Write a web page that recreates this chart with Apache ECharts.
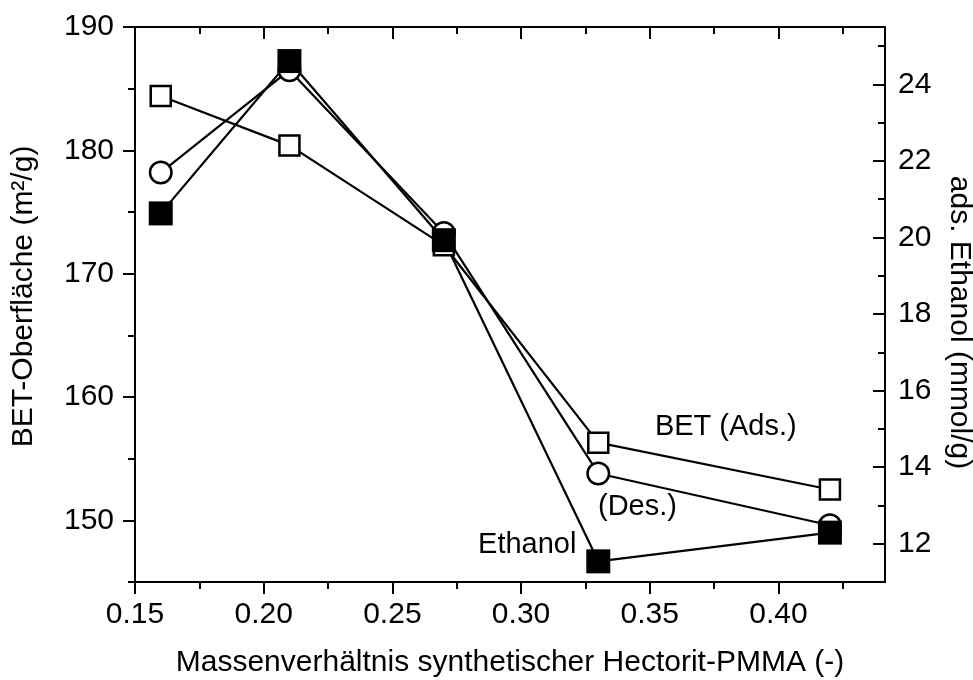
<!DOCTYPE html>
<html>
<head>
<meta charset="utf-8">
<script src="https://cdn.jsdelivr.net/npm/echarts@6/dist/echarts.min.js"></script>
<style>html,body{margin:0;padding:0;background:#fff}#c{width:973px;height:680px}</style>
</head>
<body>
<div id="c"></div>
<script>
// ---- data ----
const ratios = [0.16, 0.21, 0.27, 0.33, 0.42];
const betAds = [184.4, 180.4, 172.3, 156.3, 152.5];
const betDes = [178.2, 186.5, 173.3, 153.8, 149.6];
const ethanol = [20.63, 24.61, 19.93, 11.54, 12.29];

const xMajor = [0.15, 0.20, 0.25, 0.30, 0.35, 0.40];
const xMinor = [0.175, 0.225, 0.275, 0.325, 0.375, 0.425];
const yLeftMajor = [150, 160, 170, 180, 190];
const yLeftMinor = [145, 155, 165, 175, 185];
const yRightMajor = [12, 14, 16, 18, 20, 22, 24];
const yRightMinor = [13, 15, 17, 19, 21, 23, 25];

const FONT = 'Liberation Sans';
const FS = 30;
const FS_NOTE = 29;
const black = '#000';

function pairs(xs, ys) { return xs.map((x, i) => [x, ys[i]]); }

const X_MIN = 0.15, X_MAX = 0.4414;
const YL_MIN = 145, YL_MAX = 190;
const YR_MIN = 11, YR_MAX = 25.5;

function xAx(pos, ticks, len, inside, labels, extra) {
  return Object.assign({
    type: 'value', position: pos, min: X_MIN, max: X_MAX,
    axisLine: { show: true, onZero: false, lineStyle: { color: black, width: 2 } },
    axisTick: { show: true, customValues: ticks, length: len, inside: inside, lineStyle: { color: black, width: 2 } },
    axisLabel: labels ? { show: true, customValues: xMajor, formatter: v => v.toFixed(2), color: black, fontFamily: FONT, fontSize: FS, margin: 18 } : { show: false },
    splitLine: { show: false }
  }, extra || {});
}
function yAx(pos, min, max, ticks, len, inside, labelVals, extra) {
  return Object.assign({
    type: 'value', position: pos, min: min, max: max,
    axisLine: { show: true, onZero: false, lineStyle: { color: black, width: 2 } },
    axisTick: { show: true, customValues: ticks, length: len, inside: inside, lineStyle: { color: black, width: 2 } },
    axisLabel: labelVals ? { show: true, customValues: labelVals, color: black, fontFamily: FONT, fontSize: FS, margin: inside ? 13 : 21 } : { show: false },
    splitLine: { show: false }
  }, extra || {});
}

const chart = echarts.init(document.getElementById('c'), null, { renderer: 'canvas' });
const option = {
  backgroundColor: '#fff',
  animation: false,
  grid: { left: 135, right: 88, top: 27, bottom: 98, containLabel: false, outerBoundsMode: 'none' },
  xAxis: [
    xAx('bottom', xMajor, 12, false, true, {
      name: 'Massenverhältnis synthetischer Hectorit-PMMA (-)', nameLocation: 'middle', nameGap: 66,
      nameTextStyle: { color: black, fontFamily: FONT, fontSize: FS }
    }),
    xAx('bottom', xMinor, 7, false, false),
    xAx('top', xMajor, 12, true, false),
    xAx('top', xMinor, 7, true, false)
  ],
  yAxis: [
    yAx('left', YL_MIN, YL_MAX, yLeftMajor, 12, false, yLeftMajor, {
      name: 'BET-Oberfläche (m²/g)', nameLocation: 'middle', nameGap: 96,
      nameTextStyle: { color: black, fontFamily: FONT, fontSize: FS, padding: [0, 0, 0, 16] }
    }),
    yAx('left', YL_MIN, YL_MAX, yLeftMinor, 7, false, null),
    yAx('right', YR_MIN, YR_MAX, yRightMajor, 12, true, yRightMajor, {
      name: 'ads. Ethanol (mmol/g)', nameLocation: 'middle', nameGap: 59, nameRotate: -90,
      nameTextStyle: { color: black, fontFamily: FONT, fontSize: FS, padding: [0, 0, 0, 36] }
    }),
    yAx('right', YR_MIN, YR_MAX, yRightMinor, 7, true, null)
  ],
  series: [
    {
      name: 'BET (Ads.)', type: 'line', xAxisIndex: 0, yAxisIndex: 0,
      data: pairs(ratios, betAds),
      symbol: 'rect', symbolSize: 20, showAllSymbol: true,
      lineStyle: { color: black, width: 2.2 },
      itemStyle: { color: '#fff', borderColor: black, borderWidth: 2.5 }
    },
    {
      name: '(Des.)', type: 'line', xAxisIndex: 0, yAxisIndex: 0,
      data: pairs(ratios, betDes),
      symbol: 'circle', symbolSize: 21.5, showAllSymbol: true,
      lineStyle: { color: black, width: 2.2 },
      itemStyle: { color: '#fff', borderColor: black, borderWidth: 2.5 }
    },
    {
      name: 'Ethanol', type: 'line', xAxisIndex: 0, yAxisIndex: 2,
      data: pairs(ratios, ethanol),
      symbol: 'rect', symbolSize: 24, showAllSymbol: true,
      lineStyle: { color: black, width: 2.2 },
      itemStyle: { color: black, borderColor: black, borderWidth: 0 }
    }
  ]
};
chart.setOption(option);

// annotation texts, anchored in data coordinates of the left axis
const notes = [
  { text: 'BET (Ads.)', at: [0.352, 157.57] },
  { text: '(Des.)', at: [0.3299, 151.08] },
  { text: 'Ethanol', at: [0.2833, 148.0] }
];
chart.setOption({
  graphic: notes.map(n => {
    const p = chart.convertToPixel({ xAxisIndex: 0, yAxisIndex: 0 }, n.at);
    return {
      type: 'text', x: p[0], y: p[1],
      style: { text: n.text, fill: black, font: FS_NOTE + 'px "' + FONT + '"', textAlign: 'left', textVerticalAlign: 'middle' },
      z: 100
    };
  })
});
</script>
</body>
</html>
